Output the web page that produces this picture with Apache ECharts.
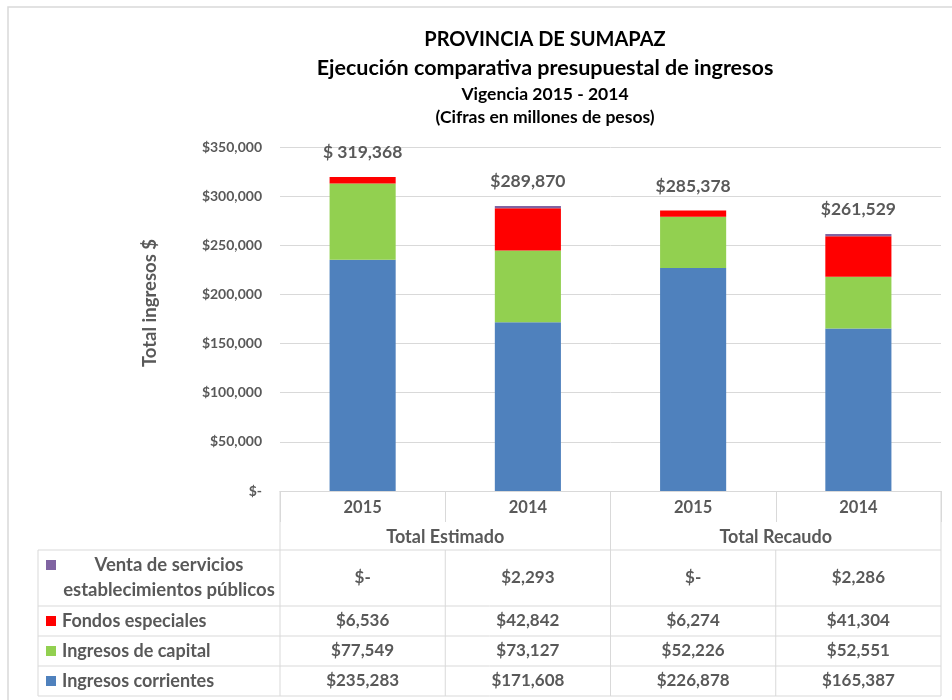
<!DOCTYPE html>
<html>
<head>
<meta charset="utf-8">
<script src="https://cdn.jsdelivr.net/npm/echarts@6/dist/echarts.min.js"></script>
<style>
html,body{margin:0;padding:0;background:#fff}
#container{width:952px;height:700px}
</style>
</head>
<body>
<div id="container"></div>
<script>
// datos (millones de pesos)
var years = ['2015', '2014', '2015', '2014'];
var groups = ['Total Estimado', 'Total Recaudo'];
var corrientes = [235283, 171608, 226878, 165387];
var capital = [77549, 73127, 52226, 52551];
var fondos = [6536, 42842, 6274, 41304];
var venta = [0, 2293, 0, 2286];
var totals = [319368, 289870, 285378, 261529];
var totalLabels = ['$ 319,368', '$289,870', '$285,378', '$261,529'];
var names = ['Ingresos corrientes', 'Ingresos de capital', 'Fondos especiales', 'Venta de servicios\nestablecimientos públicos'];
var colors = ['#4f81bd', '#92d050', '#ff0000', '#8064a2'];

var gray = '#595959';
var font = 'Lato';

function money(v) {
    if (v === 0) return '$-';
    return '$' + v.toLocaleString('en-US');
}

var myChart = echarts.init(document.getElementById('container'));

function barSerie(i, data) {
    return {
        name: names[i], type: 'bar', stack: 'total', data: data,
        barWidth: '40%',
        itemStyle: {color: colors[i]},
        emphasis: {disabled: true}
    };
}

function titulo(text, top, size) {
    return {text: text, left: 540, top: top, textAlign: 'center',
        textStyle: {fontSize: size, fontWeight: 'bold', color: '#000', fontFamily: font}};
}

var option = {
    animation: false,
    textStyle: {fontFamily: font},
    title: [
        titulo('PROVINCIA DE SUMAPAZ', 25, 20),
        titulo('Ejecución comparativa presupuestal de ingresos', 52, 21.5),
        titulo('Vigencia 2015 - 2014', 80, 17.5),
        titulo('(Cifras en millones de pesos)', 103, 17.5)
    ],
    grid: {left: 280, right: 11, top: 147, bottom: 209},
    xAxis: [{
        type: 'category', data: years, position: 'bottom',
        axisLine: {lineStyle: {color: '#d9d9d9'}},
        axisTick: {show: true, length: 31, lineStyle: {color: '#d9d9d9'}},
        axisLabel: {margin: 8, fontSize: 16.5, fontWeight: 'bold', color: gray, fontFamily: font}
    }, {
        type: 'category', data: groups, position: 'bottom', offset: 30,
        axisLine: {show: false}, axisTick: {show: false},
        axisLabel: {margin: 7, fontSize: 18, fontWeight: 'bold', color: gray, fontFamily: font}
    }],
    yAxis: {
        type: 'value', min: 0, max: 350000, interval: 50000,
        axisLine: {show: false}, axisTick: {show: false},
        splitLine: {lineStyle: {color: '#d9d9d9'}},
        axisLabel: {margin: 18, fontSize: 14, fontWeight: 'bold', color: gray, fontFamily: font, formatter: money}
    },
    series: [
        barSerie(0, corrientes),
        barSerie(1, capital),
        barSerie(2, fondos),
        barSerie(3, venta),
        {
            type: 'line', data: totals, symbol: 'circle', symbolSize: 1,
            itemStyle: {color: 'transparent'}, lineStyle: {opacity: 0},
            label: {
                show: true, position: 'top', distance: 15,
                fontSize: 17.5, fontWeight: 'bold', color: gray, fontFamily: font,
                formatter: function (p) { return totalLabels[p.dataIndex]; }
            },
            emphasis: {disabled: true}
        }
    ]
};
myChart.setOption(option);

// tabla de datos bajo el eje
var x0 = myChart.convertToPixel({xAxisIndex: 0}, 0);
var x1 = myChart.convertToPixel({xAxisIndex: 0}, 1);
var band = x1 - x0;
var axisY = myChart.convertToPixel({yAxisIndex: 0}, 0);
var leftX = 38, tableTop = axisY + 59;
var rowEdges = [tableTop, tableTop + 56, tableTop + 86, tableTop + 116, tableTop + 146];
var rightX = x0 - band / 2 + band * 4;
var lineStyle = {stroke: '#d9d9d9', lineWidth: 1};
var g = [];

function line(a, b, c, d) {
    g.push({type: 'line', shape: {x1: a, y1: b, x2: c, y2: d}, style: lineStyle, silent: true});
}

// marco exterior
g.push({type: 'rect', shape: {x: 8, y: 7, width: 960, height: 720}, style: {fill: null, stroke: '#d9d9d9', lineWidth: 1.5}, silent: true});

// titulo del eje y
g.push({type: 'text', x: 150, y: 303, rotation: Math.PI / 2, style: {
    text: 'Total ingresos $', align: 'center', verticalAlign: 'middle',
    fontSize: 18.5, fontWeight: 'bold', fill: gray, fontFamily: font}, silent: true});

rowEdges.forEach(function (y) { line(leftX, y, rightX, y); });
line(leftX, tableTop, leftX, rowEdges[4]);
for (var c = 0; c <= 4; c++) {
    var xx = x0 - band / 2 + band * c;
    line(xx, (c % 2 === 0) ? axisY : tableTop, xx, rowEdges[4]);
}

var rows = [venta, fondos, capital, corrientes];
var rowColors = [colors[3], colors[2], colors[1], colors[0]];
var rowNames = [names[3], names[2], names[1], names[0]];
rows.forEach(function (data, r) {
    var cy = (rowEdges[r] + rowEdges[r + 1]) / 2;
    var sqY = r === 0 ? cy - 18 : cy - 5;
    g.push({type: 'rect', shape: {x: 46, y: sqY, width: 10, height: 10}, style: {fill: rowColors[r]}, silent: true});
    if (r === 0) {
        g.push({type: 'text', x: 169, y: cy, style: {
            text: rowNames[r], align: 'center', verticalAlign: 'middle', lineHeight: 25,
            fontSize: 18.5, fontWeight: 'bold', fill: gray, fontFamily: font}, silent: true});
    } else {
        g.push({type: 'text', x: 62, y: cy, style: {
            text: rowNames[r], align: 'left', verticalAlign: 'middle',
            fontSize: 18, fontWeight: 'bold', fill: gray, fontFamily: font}, silent: true});
    }
    data.forEach(function (v, i) {
        g.push({type: 'text', x: x0 + band * i, y: cy, style: {
            text: money(v), align: 'center', verticalAlign: 'middle',
            fontSize: 17, fontWeight: 'bold', fill: gray, fontFamily: font}, silent: true});
    });
});

myChart.setOption({graphic: g});
</script>
</body>
</html>
